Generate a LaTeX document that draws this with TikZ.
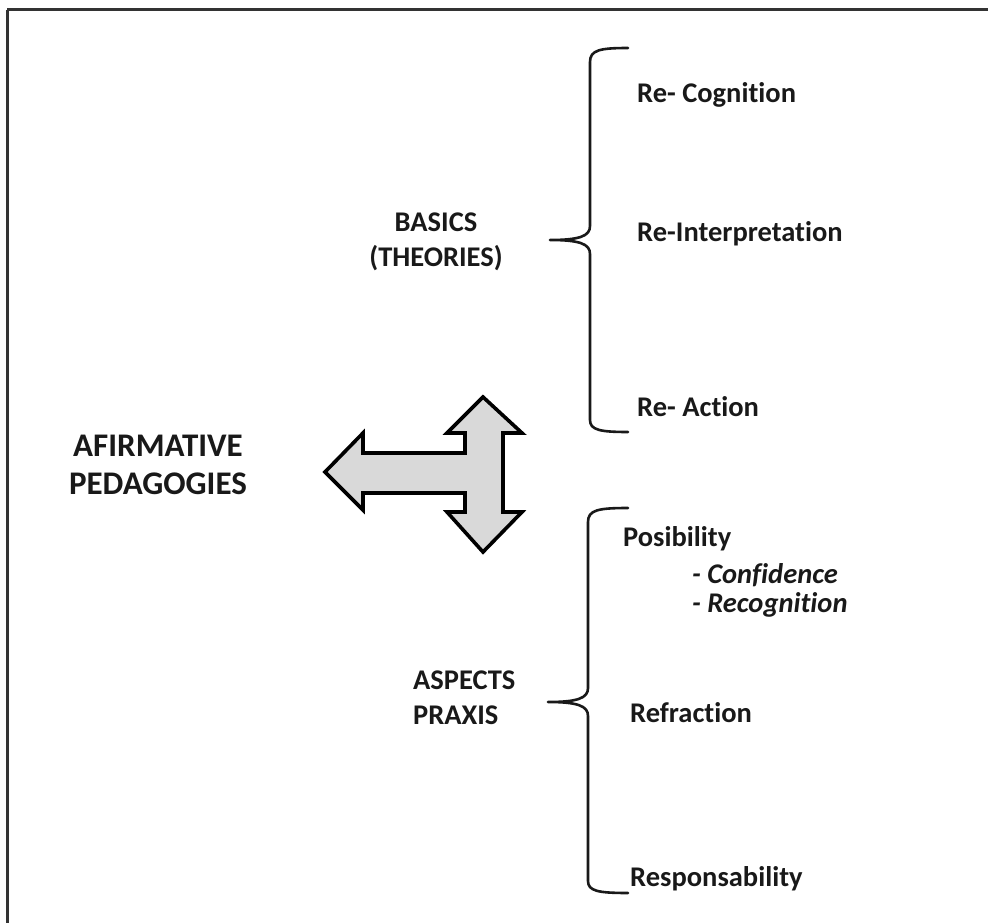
\documentclass[tikz,border=0pt]{standalone}
\usepackage{fontspec}
\setmainfont[Ligatures={NoCommon}]{Carlito}
\begin{document}
\begin{tikzpicture}[x=1pt,y=-1pt,
  frameline/.style={line width=3pt,draw=black!80},
  bracket/.style={line width=2.6pt,draw=black!90,line cap=round,line join=round},
  label/.style={inner sep=0pt,font=\bfseries\fontsize{28.5}{34}\selectfont,text=black!90},
  title/.style={inner sep=0pt,font=\bfseries\fontsize{33}{40}\selectfont,text=black!90,align=center},
  sublabel/.style={inner sep=0pt,font=\bfseries\itshape\fontsize{28.5}{34}\selectfont,text=black!90},
  bigarrow/.style={line width=3.6pt,draw=black,fill=black!15,line join=miter}]
\useasboundingbox (0,0) rectangle (988,923);

% outer frame (only top and left edges fall inside the page)
\draw[frameline] (7,10) -- (990,10);
\draw[frameline] (7,10) -- (7,925);

% title
\node[title,anchor=base] (titleA) at (158,456) {AFIRMATIVE};
\node[title,anchor=base] (titleB) at (158,494) {PEDAGOGIES};

% three-way block arrow
\draw[bigarrow] (325,472) -- (363,433) -- (363,453) -- (465,453) -- (465,433)
  -- (447,433) -- (483,397) -- (522,433) -- (503,433) -- (503,512) -- (522,512)
  -- (483,552) -- (447,512) -- (465,512) -- (465,493) -- (363,493) -- (363,510) -- cycle;

% upper group
\node[label,anchor=base] (basics) at (436,231) {BASICS};
\node[label,anchor=base] (theories) at (436,266) {(THEORIES)};
\coordinate (tipA) at (550,240);
\draw[bracket] (628,48) .. controls (600,48) and (590,50) .. (590,62) -- (590,226)
  .. controls (590,236) and (580,240) .. (tipA)
  .. controls (580,240) and (590,244) .. (590,254) -- (590,420)
  .. controls (590,430) and (600,432) .. (628,432);
\node[label,anchor=base west] (recog) at (637,103) {Re- Cognition};
\node[label,anchor=base west] (reint) at (637,241) {Re-Interpretation};
\node[label,anchor=base west] (react) at (637,416) {Re- Action};

% lower group
\node[label,anchor=base west] (aspects) at (413,689) {ASPECTS};
\node[label,anchor=base west] (praxis) at (413,724) {PRAXIS};
\coordinate (tipB) at (548,702);
\draw[bracket] (628,508) .. controls (598,508) and (588,510) .. (588,522) -- (588,688)
  .. controls (588,698) and (578,702) .. (tipB)
  .. controls (578,702) and (588,706) .. (588,716) -- (588,881)
  .. controls (588,891) and (598,893) .. (628,893);
\node[label,anchor=base west] (posib) at (623,546) {Posibility};
\node[sublabel,anchor=base west] (confid) at (692,583) {- Confidence};
\node[sublabel,anchor=base west] (recogn) at (692,612) {- Recognition};
\node[label,anchor=base west] (refrac) at (630,722) {Refraction};
\node[label,anchor=base west] (respon) at (630,886) {Responsability};
\end{tikzpicture}
\end{document}
